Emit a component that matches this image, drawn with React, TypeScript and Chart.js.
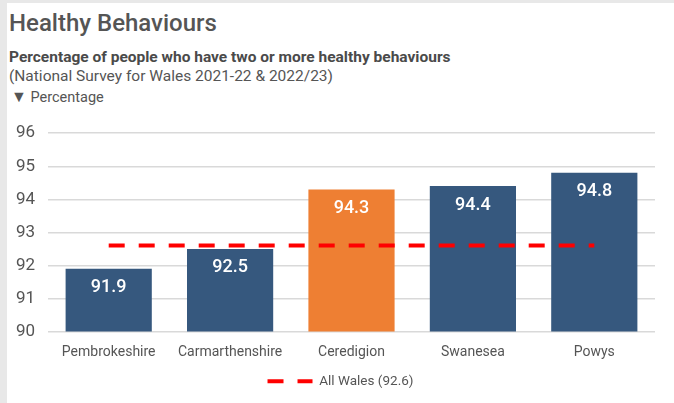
import React, { useEffect, useRef } from "react";
import { Chart, registerables } from "chart.js";

Chart.register(...registerables);

const categories = ["Pembrokeshire", "Carmarthenshire", "Ceredigion", "Swanesea", "Powys"];
const values = [91.9, 92.5, 94.3, 94.4, 94.8];
const highlight = ["Ceredigion"];
const allWales = 92.6;
const yTicks = [90, 91, 92, 93, 94, 95, 96];

const BLUE = "#36587e";
const ORANGE = "#ee7f33";
const RED = "#ff0000";
const FONT = "Roboto, 'Noto Sans', sans-serif";

const barLabels = {
  id: "barLabels",
  afterDatasetsDraw(chart: any) {
    const ctx = chart.ctx;
    const meta = chart.getDatasetMeta(0);
    ctx.save();
    ctx.fillStyle = "#ffffff";
    ctx.font = `500 18px ${FONT}`;
    ctx.textAlign = "center";
    ctx.textBaseline = "middle";
    meta.data.forEach((bar: any, i: number) => {
      ctx.fillText(values[i].toFixed(1), bar.x, bar.y + 19);
    });
    ctx.restore();
  },
};

const legendShift = {
  id: "legendShift",
  afterLayout(chart: any) {
    const l = chart.legend;
    if (l) {
      l.left += 13;
      l.right += 13;
    }
  },
};

export default function App() {
  const ref = useRef<HTMLCanvasElement | null>(null);
  useEffect(() => {
    if (!ref.current) return;
    const chart = new Chart(ref.current, {
      type: "bar",
      data: {
        labels: categories,
        datasets: [
          {
            type: "bar",
            label: "Percentage",
            data: values,
            backgroundColor: categories.map((c) => (highlight.includes(c) ? ORANGE : BLUE)),
            categoryPercentage: 1,
            barPercentage: 0.71,
            order: 2,
          } as any,
          {
            type: "line",
            label: `All Wales (${allWales})`,
            data: categories.map(() => allWales),
            borderColor: RED,
            backgroundColor: RED,
            borderWidth: 4,
            borderDash: [16, 14],
            pointRadius: 0,
            order: 1,
          } as any,
        ],
      },
      options: {
        animation: false,
        responsive: false,
        maintainAspectRatio: false,
        layout: { padding: { top: 20, right: 19, left: 0, bottom: 5 } },
        scales: {
          x: {
            grid: { display: false },
            border: { display: false },
            ticks: { font: { family: FONT, size: 14 }, color: "#555555", padding: 5 },
            afterFit: (s: any) => {
              s.height = 33;
            },
          },
          y: {
            min: yTicks[0],
            max: yTicks[yTicks.length - 1],
            afterBuildTicks: (s: any) => {
              s.ticks = yTicks.map((v) => ({ value: v }));
            },
            grid: { color: "#d9d9d9", lineWidth: 1.5, drawTicks: false },
            border: { display: false },
            ticks: { font: { family: FONT, size: 17 }, color: "#555555", padding: 13 },
            afterFit: (s: any) => {
              s.width = 48;
            },
          },
        },
        plugins: {
          legend: {
            position: "bottom",
            labels: {
              usePointStyle: true,
              pointStyle: "line",
              pointStyleWidth: 45,
              boxHeight: 4,
              font: { family: FONT, size: 13.5 },
              color: "#555555",
              padding: 10,
              generateLabels: () => [
                {
                  text: `All Wales (${allWales})`,
                  fillStyle: RED,
                  strokeStyle: RED,
                  lineWidth: 4,
                  lineDash: [16, 14],
                  lineCap: "butt",
                  pointStyle: "line",
                  hidden: false,
                  datasetIndex: 1,
                  fontColor: "#555555",
                } as any,
              ],
            },
          },
          tooltip: { enabled: false },
        },
      },
      plugins: [barLabels, legendShift],
    });
    return () => chart.destroy();
  }, []);

  return (
    <div style={{ position: "fixed", left: 0, top: 0, width: 674, height: 403, background: "#e8e8e8", overflow: "hidden" }}>
      <div style={{ position: "absolute", left: 7, top: 3, right: 0, bottom: 0, background: "#ffffff" }} />
      <div style={{ position: "absolute", left: 9, top: 9, fontFamily: FONT, fontSize: 24, fontWeight: 500, color: "#555555", whiteSpace: "nowrap" }}>
        Healthy Behaviours
      </div>
      <div style={{ position: "absolute", left: 9, top: 48, fontFamily: FONT, fontSize: 15.5, fontWeight: 700, color: "#4a4a4a", whiteSpace: "nowrap" }}>
        Percentage of people who have two or more healthy behaviours
      </div>
      <div style={{ position: "absolute", left: 9, top: 67, fontFamily: FONT, fontSize: 15.5, color: "#555555", whiteSpace: "nowrap" }}>
        (National Survey for Wales 2021-22 &amp; 2022/23)
      </div>
      <div style={{ position: "absolute", left: 11, top: 87, fontFamily: FONT, fontSize: 14.5, color: "#555555", whiteSpace: "nowrap" }}>
        <span style={{ fontSize: 16 }}>▼</span> Percentage
      </div>
      <canvas ref={ref} width={674} height={293} style={{ position: "absolute", left: 0, top: 110, width: 674, height: 293 }} />
    </div>
  );
}
